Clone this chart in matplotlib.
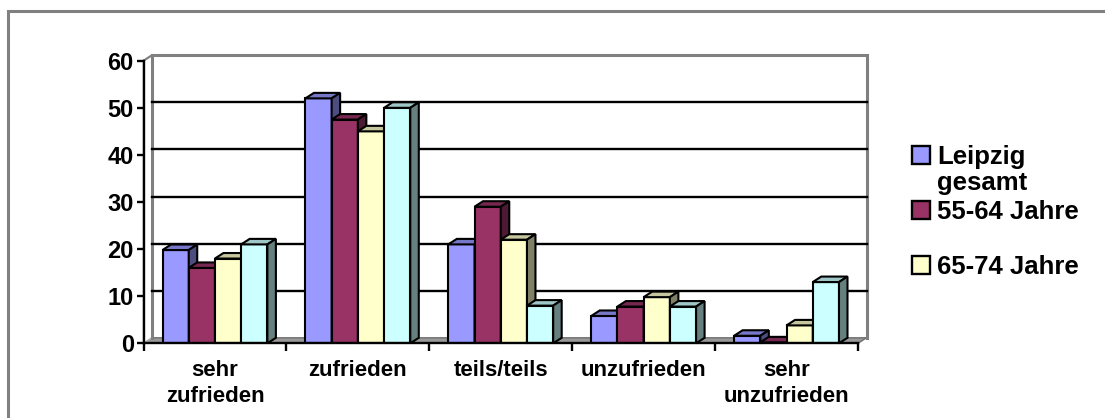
import numpy as np
import matplotlib.pyplot as plt
from matplotlib.patches import Polygon, Rectangle
from matplotlib.lines import Line2D

# Daten
categories = ["sehr\nzufrieden", "zufrieden", "teils/teils", "unzufrieden", "sehr\nunzufrieden"]
series_names = ["Leipzig\ngesamt", "55-64 Jahre", "65-74 Jahre", "75 Jahre und älter"]
leipzig = [19.8, 52.0, 21.0, 5.8, 1.6]
j55_64 = [16.0, 47.5, 29.0, 7.8, 0.2]
j65_74 = [18.0, 45.0, 22.0, 9.8, 3.8]
j75 = [21.0, 50.0, 8.0, 7.8, 13.0]
yticks = [0, 10, 20, 30, 40, 50, 60]

values = [leipzig, j55_64, j65_74, j75]
colors = ["#9999FF", "#993366", "#FFFFCC", "#CCFFFF"]

W, H = 1105, 418
fig = plt.figure(figsize=(W / 100, H / 100), dpi=100)
plt.rcParams['font.family'] = ['Liberation Sans', 'DejaVu Sans']

# Achsenbereich in Pixeln (vordere Ebene)
x0_px, x1_px = 143.5, 858.0
ytop_px, ybot_px = 60.7, 343.3
ax = fig.add_axes([x0_px / W, 1 - ybot_px / H, (x1_px - x0_px) / W, (ybot_px - ytop_px) / H])
ax.set_xlim(0, len(categories))
ax.set_ylim(0, 60)

# Tiefe fuer den 3D-Effekt (in Dateneinheiten)
dx = 8.5 / ((x1_px - x0_px) / len(categories))
dy = 5.5 / ((ybot_px - ytop_px) / 60)
ncat = len(categories)
wall = "#808080"


def shade(c, f):
    rgb = np.array(plt.matplotlib.colors.to_rgb(c))
    return tuple(rgb * f)


# Boden
ax.add_patch(Polygon([(0, 0), (ncat, 0), (ncat + dx, dy), (dx, dy)], closed=True,
                     facecolor="#999999", edgecolor="#6e6e6e", lw=1, clip_on=False, zorder=1))
# linke Wand
ax.add_patch(Polygon([(0, 0), (dx, dy), (dx, 60 + dy), (0, 60)], closed=True,
                     facecolor="white", edgecolor="#b0b0b0", lw=1.2, clip_on=False, zorder=1))
# Rueckwand-Kanten
ax.plot([dx, dx, ncat + dx, ncat + dx], [dy, 60 + dy, 60 + dy, dy], color=wall, lw=2.2,
        clip_on=False, zorder=1.5, solid_joinstyle="miter")
ax.plot([0, dx], [60, 60 + dy], color=wall, lw=1.5, clip_on=False, zorder=1.5)
# Gitterlinien auf der Rueckwand
for t in yticks[1:-1]:
    ax.plot([dx, ncat + dx], [t + dy, t + dy], color="black", lw=1.7, clip_on=False, zorder=1.6)

# Saeulen
bw = 0.1835
start = 0.133
xc = np.arange(ncat)
for i, (vals, col) in enumerate(zip(values, colors)):
    z = 3 + i
    xs = xc + start + i * bw
    ax.bar(xs, vals, width=bw, align="edge", color=col, edgecolor="black", lw=1.5, zorder=z)
    for xl, v in zip(xs, vals):
        xr = xl + bw
        ax.add_patch(Polygon([(xl, v), (xr, v), (xr + dx, v + dy), (xl + dx, v + dy)], closed=True,
                             facecolor=shade(col, 0.78), edgecolor="black", lw=1.5,
                             clip_on=False, zorder=z))
        ax.add_patch(Polygon([(xr, 0), (xr + dx, dy), (xr + dx, v + dy), (xr, v)], closed=True,
                             facecolor=shade(col, 0.5), edgecolor="black", lw=1.5,
                             clip_on=False, zorder=z))

# Achsen
for s in ["top", "right"]:
    ax.spines[s].set_visible(False)
for s in ["left", "bottom"]:
    ax.spines[s].set_linewidth(1.7)
    ax.spines[s].set_zorder(10)
ax.set_yticks(yticks)
ax.set_yticklabels([str(t) for t in yticks], fontsize=17, fontweight="bold")
ax.set_xticks(np.arange(ncat + 1))
ax.set_xticklabels([])
ax.set_xticks(xc + 0.5, minor=True)
ax.set_xticklabels(categories, minor=True, fontsize=16, fontweight="bold", linespacing=1.3)
ax.tick_params(axis="y", length=5, width=1.7, pad=2)
ax.tick_params(axis="x", which="major", length=6, width=1.7, direction="out")
ax.tick_params(axis="x", which="minor", length=0, pad=12)
ax.set_facecolor("none")

# Legende (nur drei Eintraege sichtbar)
leg_x = 912
leg_y = [155, 210, 265]
for name, col, yy in zip(series_names[:3], colors[:3], leg_y):
    fig.patches.append(Rectangle((leg_x / W, 1 - (yy + 9) / H), 18 / W, 18 / H,
                                 transform=fig.transFigure, facecolor=col, edgecolor="black",
                                 lw=1.7, figure=fig))
    fig.text((leg_x + 25) / W, 1 - (yy - 10) / H, name, fontsize=18.5, fontweight="bold",
             va="top", ha="left", linespacing=1.12)

# Rahmen
fig.add_artist(Line2D([8 / W, 8 / W, 1.0], [0, 1 - 11 / H, 1 - 11 / H], transform=fig.transFigure,
                      color=wall, lw=2.2, solid_joinstyle="miter"))

fig.savefig("out.png", dpi=100)
